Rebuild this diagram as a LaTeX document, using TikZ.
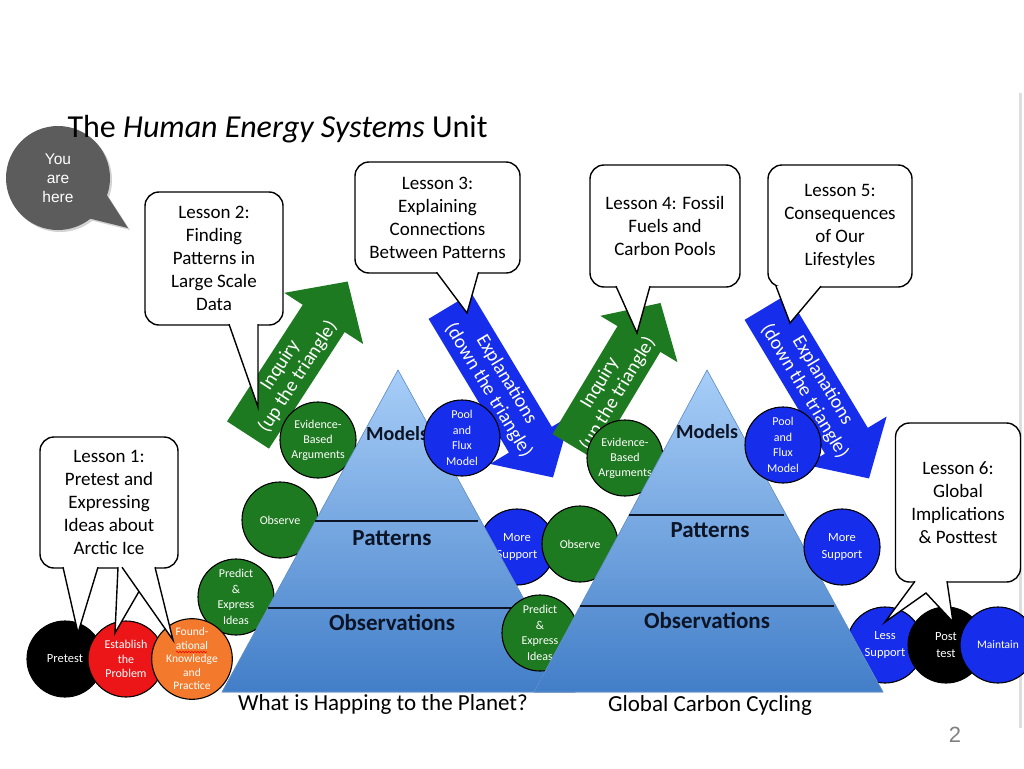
\documentclass[tikz,border=0pt]{standalone}
\usepackage{fontspec}
\setmainfont{Carlito}
\newfontfamily\arialfont{Liberation Sans}
\usepackage{xcolor}
\usepackage{tikz}
\usetikzlibrary{shapes.geometric, shapes.callouts, shadows, decorations.pathmorphing}

\definecolor{lessongreen}{RGB}{30,122,32}
\definecolor{lessonblue}{RGB}{22,45,235}
\definecolor{lessonred}{RGB}{236,22,24}
\definecolor{lessonorange}{RGB}{243,122,44}
\definecolor{heregray}{RGB}{92,92,92}
\definecolor{tritop}{RGB}{168,206,248}
\definecolor{tribottom}{RGB}{66,126,200}
\definecolor{triedge}{RGB}{100,150,210}
\definecolor{trilabel}{RGB}{12,20,38}
\definecolor{pagegray}{RGB}{222,222,222}

\begin{document}
\begin{tikzpicture}[x=1pt, y=-1pt,
  lesson/.style={shape=rectangle, rounded corners=14pt, draw=black, line width=1.4pt, fill=white, inner sep=0pt, align=center, font=\fontsize{19}{23}\selectfont},
  lessontail/.style={draw=black, line width=1.4pt, fill=white, line join=miter},
  stage/.style={shape=circle, draw=black, line width=1.1pt, minimum size=76pt, inner sep=0pt, align=center, text=white, font=\fontsize{12}{15}\selectfont},
  greenstage/.style={stage, fill=lessongreen},
  bluestage/.style={stage, fill=lessonblue},
  pyramid/.style={top color=tritop, bottom color=tribottom, draw=triedge, line width=0.6pt},
  tierline/.style={draw=trilabel, line width=1.2pt},
  tierlabel/.style={text=trilabel, font=\bfseries\fontsize{23}{26}\selectfont},
  arrowtext/.style={text=white, align=center, font=\fontsize{19.5}{21}\selectfont},
  undertitle/.style={font=\fontsize{23}{26}\selectfont, anchor=base},
]
\useasboundingbox[fill=white] (0,0) rectangle (1024,768);

\draw[line width=3pt, pagegray] (1020,93) -- (1020,728);
\node[text=gray, font=\arialfont\fontsize{22}{24}\selectfont] (pageNo) at (955,735) {2};

% you are here
\node[ellipse callout, callout absolute pointer={(128,228)}, callout pointer arc=32, fill=heregray, minimum size=104pt, inner sep=0pt, text=white, align=center, font=\arialfont\fontsize{15.5}{19}\selectfont, drop shadow={opacity=0.35, shadow xshift=2pt, shadow yshift=-2pt}] (youHere) at (58,178) {You\\are\\here};

\node[anchor=base west, font=\fontsize{32}{36}\selectfont] (unitTitle) at (64,137) {The \textit{Human Energy Systems} Unit};

% first inquiry arrow
\begin{scope}[shift={(248,435)}, rotate=57]
  \fill[lessongreen] (0,-25) -- (139,-25) -- (139,-47) -- (183,0) -- (139,47) -- (139,25) -- (0,25) -- cycle;
  \node[arrowtext, rotate=57] (inquiryOne) at (76,0) {Inquiry\\(up the triangle)};
\end{scope}

\node[greenstage] (evidenceOne) at (318,440) {Evidence-\\Based\\Arguments};
\node[greenstage] (observeOne) at (280,520) {Observe};
\node[greenstage, font=\fontsize{12}{15.5}\selectfont] (predictOne) at (236,597) {Predict\\\&\\Express\\Ideas};
\node[stage, fill=black, font=\fontsize{12.5}{15}\selectfont] (pretest) at (65,659) {Pretest};
\node[stage, fill=lessonred, font=\fontsize{12}{14.5}\selectfont] (establish) at (126,659) {Establish\\the\\Problem};
\node[stage, fill=lessonorange, font=\fontsize{11.5}{13.5}\selectfont] (foundation) at (192,659) {Found-\\ational\\Knowledge\\and\\Practice};
\draw[red, line width=0.6pt, decorate, decoration={snake, amplitude=0.8pt, segment length=3pt}] (176,652) -- (207,652);
\node[bluestage, font=\fontsize{12.5}{17}\selectfont] (moreOne) at (517,547) {More\\Support};

% first triangle
\filldraw[pyramid] (398,370) -- (575,692) -- (222,692) -- cycle;
\draw[tierline] (315,521) -- (478,521);
\draw[tierline] (268,608) -- (527,608);
\node[tierlabel, font=\bfseries\fontsize{20}{24}\selectfont] (modelsOne) at (397,434) {Models};
\node[tierlabel] (patternsOne) at (392,538) {Patterns};
\node[tierlabel] (observationsOne) at (392,622) {Observations};

% first explanation arrow
\begin{scope}[shift={(450,306)}, rotate=-59]
  \fill[lessonblue] (0,-25) -- (156,-25) -- (156,-47) -- (200,0) -- (156,47) -- (156,25) -- (0,25) -- cycle;
  \coordinate (explainOneMid) at (92,0);
\end{scope}
\node[bluestage, font=\fontsize{12}{15.5}\selectfont] (poolOne) at (462,438) {Pool\\and\\Flux\\Model};
\node[arrowtext, rotate=-59] (explainOne) at (explainOneMid) {Explanations\\(down the triangle)};

% second inquiry arrow
\begin{scope}[shift={(574,447)}, rotate=59]
  \fill[lessongreen] (0,-25) -- (126,-25) -- (126,-45) -- (168,0) -- (126,45) -- (126,25) -- (0,25) -- cycle;
  \node[arrowtext, rotate=59] (inquiryTwo) at (68,0) {Inquiry\\(up the triangle)};
\end{scope}

\node[greenstage] (evidenceTwo) at (625,458) {Evidence-\\Based\\Arguments};
\node[greenstage] (observeTwo) at (580,544) {Observe};
\node[greenstage, font=\fontsize{12}{15.5}\selectfont] (predictTwo) at (540,633) {Predict\\\&\\Express\\Ideas};
\node[bluestage, font=\fontsize{12.5}{17}\selectfont] (lessSupport) at (885,645) {Less\\Support};

% second triangle
\filldraw[pyramid] (707,370) -- (883,692) -- (534,692) -- cycle;
\draw[tierline] (629,515) -- (784,515);
\draw[tierline] (580,606) -- (834,606);
\node[tierlabel, font=\bfseries\fontsize{20}{24}\selectfont] (modelsTwo) at (707,432) {Models};
\node[tierlabel] (patternsTwo) at (710,530) {Patterns};
\node[tierlabel] (observationsTwo) at (707,620) {Observations};

% second explanation arrow
\begin{scope}[shift={(766,307)}, rotate=-59]
  \fill[lessonblue] (0,-25) -- (156,-25) -- (156,-47) -- (200,0) -- (156,47) -- (156,25) -- (0,25) -- cycle;
  \coordinate (explainTwoMid) at (92,0);
\end{scope}
\node[bluestage, font=\fontsize{12}{15.5}\selectfont] (poolTwo) at (783,445) {Pool\\and\\Flux\\Model};
\node[arrowtext, rotate=-59] (explainTwo) at (explainTwoMid) {Explanations\\(down the triangle)};

\node[bluestage, font=\fontsize{12.5}{17}\selectfont] (moreTwo) at (842,547) {More\\Support};
\node[stage, fill=black, font=\fontsize{12.5}{17}\selectfont] (posttest) at (946,645) {Post\\test};
\node[bluestage, font=\fontsize{11.5}{15}\selectfont] (maintain) at (998,645) {Maintain};

\node[undertitle] (planetCaption) at (383,710) {What is Happing to the Planet?};
\node[undertitle] (carbonCaption) at (710,711) {Global Carbon Cycling};

% lesson callouts
\node[lesson, minimum width=138pt, minimum height=133pt] (lessonTwo) at (214,258.5) {Lesson 2:\\Finding\\Patterns in\\Large Scale\\Data};
\node[lesson, minimum width=165pt, minimum height=111pt] (lessonThree) at (437.5,217.5) {Lesson 3:\\Explaining\\Connections\\Between Patterns};
\node[lesson, minimum width=150pt, minimum height=122pt] (lessonFour) at (665,226) {Lesson 4: Fossil\\Fuels and\\Carbon Pools};
\node[lesson, minimum width=144pt, minimum height=122pt] (lessonFive) at (840,226) {Lesson 5:\\Consequences\\of Our\\Lifestyles};
\node[lesson, minimum width=138pt, minimum height=131pt] (lessonOne) at (109,502.5) {Lesson 1:\\Pretest and\\Expressing\\Ideas about\\Arctic Ice};
\node[lesson, minimum width=125pt, minimum height=159pt] (lessonSix) at (958,502.5) {Lesson 6:\\Global\\Implications\\\& Posttest};

\coordinate (tipTwo) at (258,407);
\coordinate (tipThree) at (467,313);
\coordinate (tipFour) at (637,333);
\coordinate (tipFive) at (790,323);
\coordinate (tipPretest) at (78,633);
\coordinate (tipEstablish) at (115,633);
\coordinate (tipFoundation) at (173,640);
\coordinate (tipLess) at (885,622);
\coordinate (forkSix) at (926,593);
\coordinate (tipPost) at (953,622);

\filldraw[lessontail] ([xshift=15pt, yshift=1.5pt]lessonTwo.south) -- (tipTwo) -- ([xshift=44pt, yshift=1.5pt]lessonTwo.south);
\filldraw[lessontail] ([xshift=-1pt, yshift=1.5pt]lessonThree.south) -- (tipThree) -- ([xshift=41pt, yshift=1.5pt]lessonThree.south);
\filldraw[lessontail] ([xshift=-49pt, yshift=1.5pt]lessonFour.south) -- (tipFour) -- ([xshift=-15pt, yshift=1.5pt]lessonFour.south);
\filldraw[lessontail] ([xshift=-64pt, yshift=1.5pt]lessonFive.south) -- (tipFive) -- ([xshift=-19pt, yshift=1.5pt]lessonFive.south);
\filldraw[lessontail] ([xshift=-46pt, yshift=1.5pt]lessonOne.south) -- (tipPretest) -- ([xshift=-11pt, yshift=1.5pt]lessonOne.south);
\filldraw[lessontail] ([xshift=9pt, yshift=1.5pt]lessonOne.south) -- (tipEstablish) -- ([xshift=44pt, yshift=1.5pt]lessonOne.south);
\filldraw[lessontail] ([xshift=13pt, yshift=1.5pt]lessonOne.south) -- (tipFoundation) -- ([xshift=46pt, yshift=1.5pt]lessonOne.south);
\filldraw[lessontail] ([xshift=-43pt, yshift=1.5pt]lessonSix.south) -- (tipLess) -- (forkSix) -- (tipPost) -- ([xshift=-11pt, yshift=1.5pt]lessonSix.south);
\end{tikzpicture}
\end{document}
